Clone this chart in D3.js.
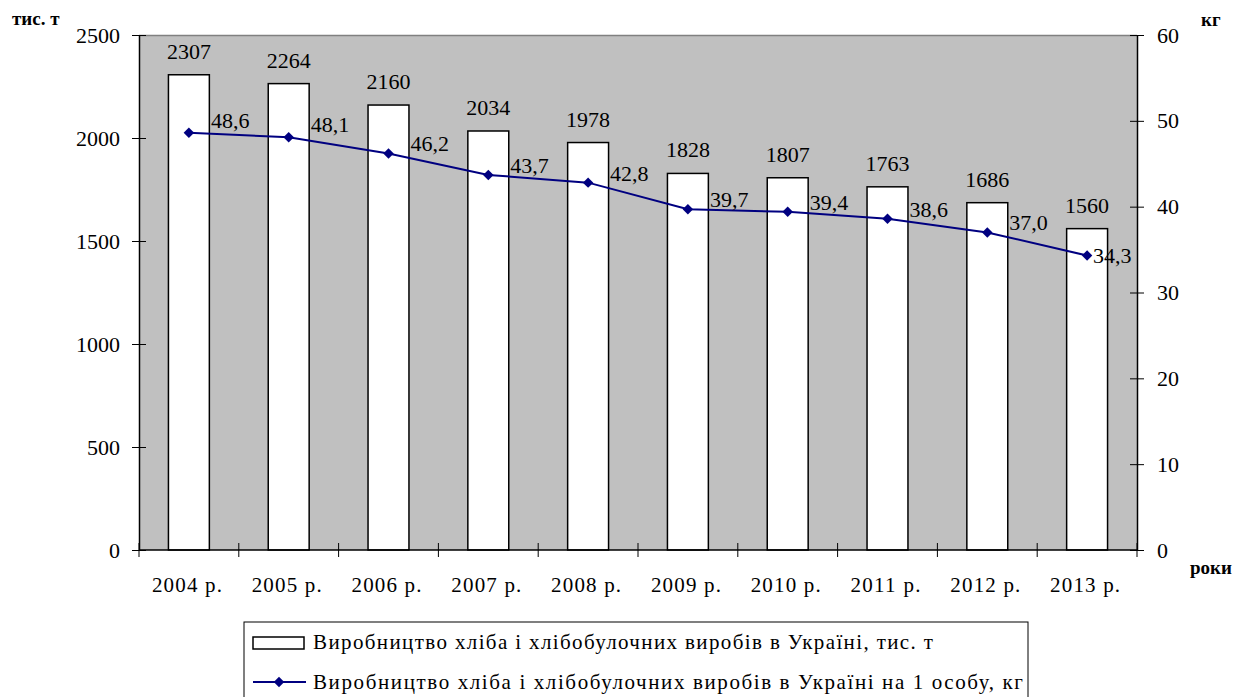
<!DOCTYPE html>
<html><head><meta charset="utf-8">
<script src="https://cdn.jsdelivr.net/npm/d3@7"></script>
</head><body style="margin:0;background:#fff"><svg id="c" width="1240" height="697" font-family="Liberation Serif"></svg>
<script>
const years = ["2004 р.","2005 р.","2006 р.","2007 р.","2008 р.","2009 р.","2010 р.","2011 р.","2012 р.","2013 р."];
const production = [2307,2264,2160,2034,1978,1828,1807,1763,1686,1560];
const perCapita = [48.6,48.1,46.2,43.7,42.8,39.7,39.4,38.6,37.0,34.3];
const leftTicks = [0,500,1000,1500,2000,2500];
const rightTicks = [0,10,20,30,40,50,60];
const legendLabels = ["Виробництво хліба і хлібобулочних виробів в Україні, тис. т","Виробництво хліба і хлібобулочних виробів в Україні на 1 особу, кг"];

const FONT = "Liberation Serif";
const svg = d3.select("#c");
const L=139,R=1137,T=35,B=550;
const x = d3.scaleBand().domain(years).range([L,R]).paddingInner(0.59).paddingOuter(0.295);
const yL = d3.scaleLinear().domain([0,2500]).range([B,T]);
const yR = d3.scaleLinear().domain([0,60]).range([B,T]);
const fs = 21, fn = 22;

svg.append("rect").attr("x",L).attr("y",T).attr("width",R-L).attr("height",B-T).attr("fill","#c0c0c0");
svg.append("line").attr("x1",L).attr("x2",R).attr("y1",T+0.5).attr("y2",T+0.5).attr("stroke","#808080").attr("stroke-width",1.5);

// bars
svg.selectAll("rect.bar").data(production).join("rect").attr("class","bar")
 .attr("x",(d,i)=>x(years[i])).attr("width",x.bandwidth())
 .attr("y",d=>yL(d)).attr("height",d=>B-yL(d))
 .attr("fill","#fff").attr("stroke","#000").attr("stroke-width",1.5);
svg.selectAll("text.bl").data(production).join("text").attr("class","bl")
 .attr("x",(d,i)=>x(years[i])+x.bandwidth()/2).attr("y",d=>yL(d)-16)
 .attr("text-anchor","middle").attr("font-size",fn).text(d=>d);

// axes
const step = (R-L)/years.length;
const gx = svg.append("g");
gx.append("line").attr("x1",L).attr("x2",R).attr("y1",B).attr("y2",B).attr("stroke","#000").attr("stroke-width",1.5);
d3.range(years.length+1).forEach(i=>{
  gx.append("line").attr("x1",L+i*step).attr("x2",L+i*step).attr("y1",B-7).attr("y2",B+7).attr("stroke","#000");
});
gx.selectAll("text").data(years).join("text").attr("x",d=>x(d)+x.bandwidth()/2-2).attr("y",B+42)
 .attr("text-anchor","middle").attr("font-size",fs).attr("textLength",70).attr("lengthAdjust","spacing").text(d=>d);

const gl = svg.append("g").attr("transform",`translate(${L},0)`)
 .call(d3.axisLeft(yL).tickValues(leftTicks).tickFormat(d3.format("d")).tickSizeInner(7).tickSizeOuter(0).tickPadding(10));
const gr = svg.append("g").attr("transform",`translate(${R},0)`)
 .call(d3.axisRight(yR).tickValues(rightTicks).tickFormat(d3.format("d")).tickSizeInner(7).tickSizeOuter(0).tickPadding(10));
[gl,gr].forEach(g=>{
  g.attr("font-family",FONT).attr("font-size",fn);
  g.select(".domain").attr("stroke","#000").attr("stroke-width",1.5);
  g.selectAll(".tick line").attr("stroke","#000");
  g.selectAll("text").attr("fill","#000");
});
gl.selectAll(".tick line").attr("x1",7).attr("x2",-7);
gr.selectAll(".tick line").attr("x1",-7).attr("x2",7);
gl.selectAll(".tick text").attr("x",-19);
gr.selectAll(".tick text").attr("x",20);

// line
const cx = (d,i)=>x(years[i])+x.bandwidth()/2;
svg.append("path").datum(perCapita)
 .attr("d",d3.line().x(cx).y(d=>yR(d)))
 .attr("fill","none").attr("stroke","#000080").attr("stroke-width",2);
const diamond = d3.symbol().type(d3.symbolDiamond2).size(70);
svg.selectAll("path.m").data(perCapita).join("path").attr("class","m")
 .attr("d",diamond).attr("transform",(d,i)=>`translate(${cx(d,i)},${yR(d)})`).attr("fill","#000080");
const last = perCapita.length-1;
svg.selectAll("text.ll").data(perCapita).join("text").attr("class","ll")
 .attr("x",(d,i)=>cx(d,i)+(i===last?6:22))
 .attr("y",(d,i)=>yR(d)+(i===last?7:(i<2?-5:-2)))
 .attr("font-size",fn)
 .text(d=>d.toFixed(1).replace(".",","));

// axis titles
svg.append("text").attr("x",12).attr("y",25).attr("font-size",19).attr("font-weight","bold").text("тис. т");
svg.append("text").attr("x",1201).attr("y",26).attr("font-size",19).attr("font-weight","bold").text("кг");
svg.append("text").attr("x",1190).attr("y",574).attr("font-size",19).attr("font-weight","bold").text("роки");

// legend
svg.append("rect").attr("x",244).attr("y",622).attr("width",784).attr("height",90).attr("fill","#fff").attr("stroke","#000");
svg.append("rect").attr("x",253).attr("y",637).attr("width",51).attr("height",12).attr("fill","#fff").attr("stroke","#000").attr("stroke-width",1.5);
svg.append("line").attr("x1",253).attr("x2",306).attr("y1",682).attr("y2",682).attr("stroke","#000080").attr("stroke-width",2);
svg.append("path").attr("d",diamond).attr("transform","translate(279,682)").attr("fill","#000080");
const legLen = [620,710];
svg.selectAll("text.lg").data(legendLabels).join("text").attr("class","lg")
 .attr("x",313).attr("y",(d,i)=>649+i*40).attr("font-size",fs)
 .attr("textLength",(d,i)=>legLen[i]).attr("lengthAdjust","spacing").text(d=>d);

svg.selectAll("text").attr("font-family",FONT);
</script></body></html>
